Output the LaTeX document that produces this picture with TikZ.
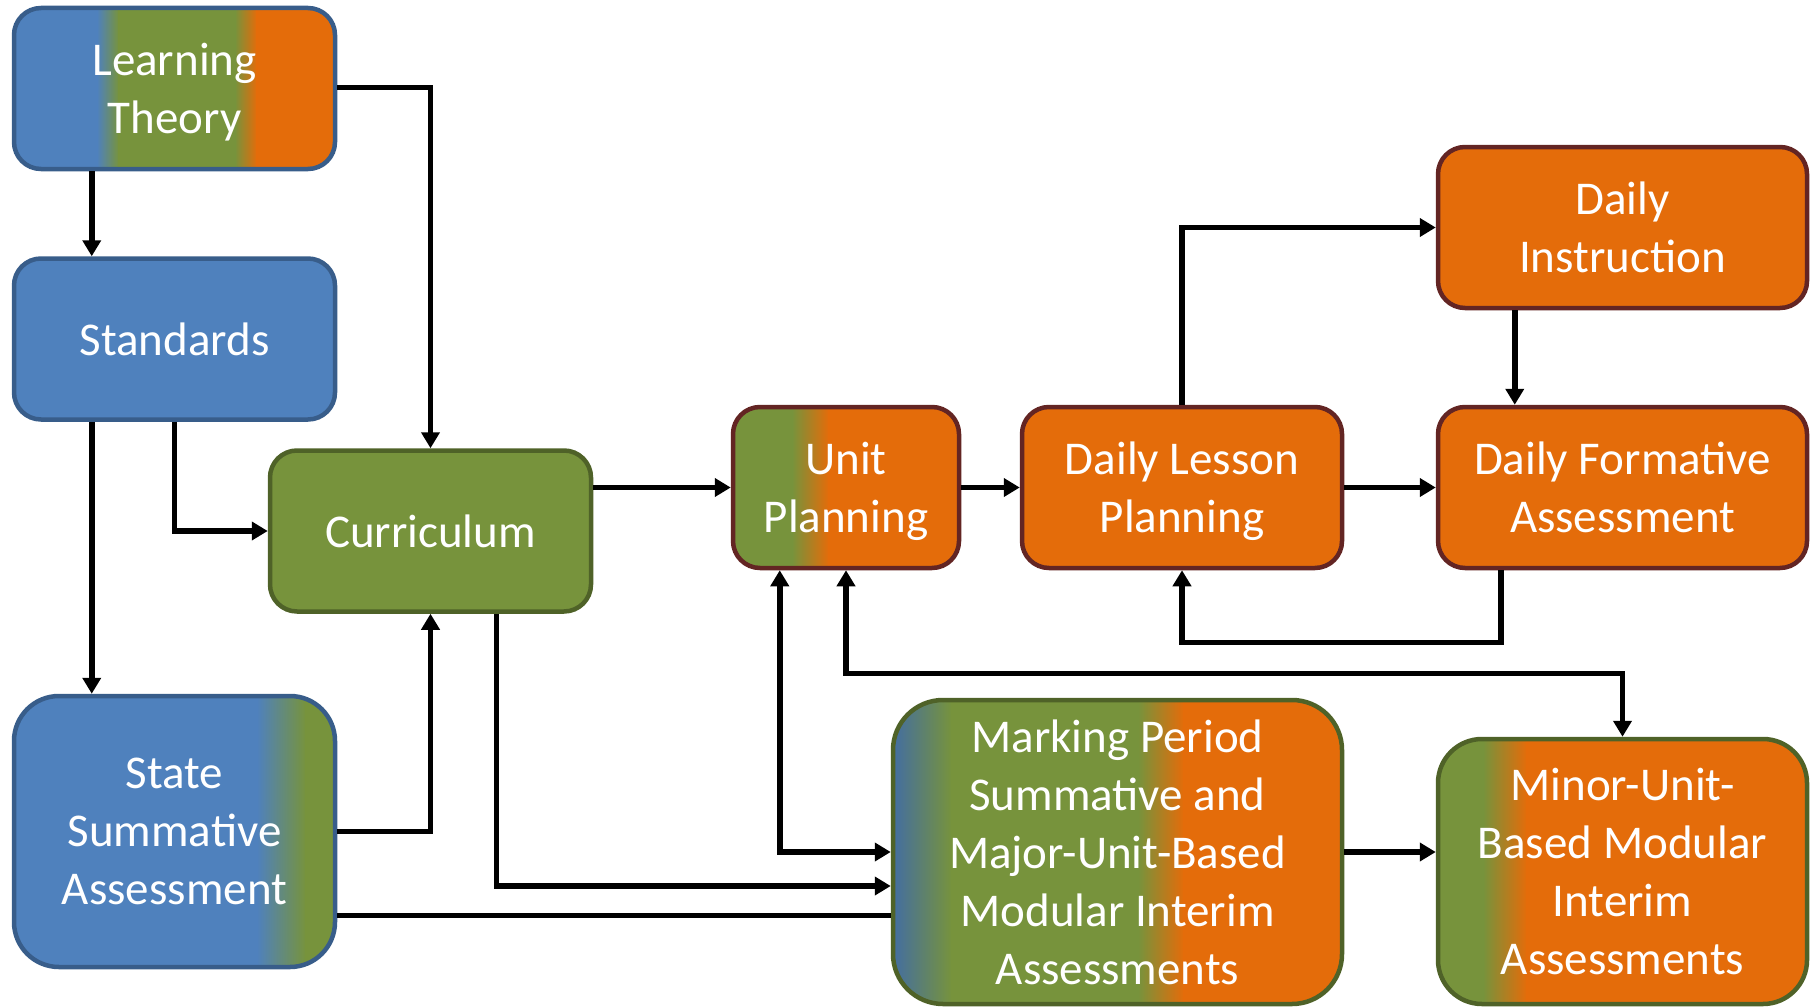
\documentclass[tikz,border=0pt]{standalone}
\usepackage{fontspec}
\setmainfont{Carlito}
\usetikzlibrary{arrows.meta}

\definecolor{cblue}{HTML}{4F81BD}
\definecolor{cgreen}{HTML}{77933C}
\definecolor{corange}{HTML}{E46C0A}
\definecolor{bblue}{HTML}{385D8A}
\definecolor{bgreen}{HTML}{4F6228}
\definecolor{bred}{HTML}{632523}

\begin{document}
\begin{tikzpicture}[x=1pt,y=-1pt,
  box/.style={rectangle, rounded corners=27pt, line width=4.5pt, inner sep=0pt,
    text=white, align=center, text depth=0pt, font=\fontsize{47}{58}\selectfont},
  arr/.style={line width=5.5pt, -{Triangle[length=16pt,width=18pt]}},
  biarr/.style={line width=5.5pt, {Triangle[length=16pt,width=18pt]}-{Triangle[length=16pt,width=18pt]}},
  link/.style={line width=5.5pt}]
\useasboundingbox (0,0) rectangle (1814,1006);

% ---- gradient backgrounds ----
% Learning Theory: blue / green / orange
\begin{scope}
  \clip[rounded corners=27pt] (14,8) rectangle (335,169);
  \fill[cblue] (14,8) rectangle (98,169);
  \shade[left color=cblue,right color=cgreen] (97,8) rectangle (119,169);
  \fill[cgreen] (118,8) rectangle (236,169);
  \shade[left color=cgreen,right color=corange] (235,8) rectangle (257,169);
  \fill[corange] (256,8) rectangle (335,169);
\end{scope}
% State Summative Assessment: blue / green
\begin{scope}
  \clip[rounded corners=45pt] (14,696) rectangle (335,967);
  \fill[cblue] (14,696) rectangle (258,967);
  \shade[left color=cblue,right color=cgreen] (257,696) rectangle (306,967);
  \fill[cgreen] (305,696) rectangle (335,967);
\end{scope}
% Unit Planning: green / orange
\begin{scope}
  \clip[rounded corners=27pt] (733,407) rectangle (959,568);
  \fill[cgreen] (733,407) rectangle (793,568);
  \shade[left color=cgreen,right color=corange] (792,407) rectangle (829,568);
  \fill[corange] (828,407) rectangle (959,568);
\end{scope}
% Marking Period: blue / green / orange
\begin{scope}
  \clip[rounded corners=50pt] (893,700) rectangle (1342,1004);
  \shade[left color=cblue!85!black,right color=cgreen] (893,700) rectangle (952,1004);
  \fill[cgreen] (951,700) rectangle (1139,1004);
  \shade[left color=cgreen,right color=corange] (1138,700) rectangle (1184,1004);
  \fill[corange] (1183,700) rectangle (1342,1004);
\end{scope}
% Minor-Unit: green / orange
\begin{scope}
  \clip[rounded corners=44pt] (1438,739) rectangle (1807,1004);
  \fill[cgreen] (1438,739) rectangle (1484,1004);
  \shade[left color=cgreen,right color=corange] (1483,739) rectangle (1527,1004);
  \fill[corange] (1526,739) rectangle (1807,1004);
\end{scope}

% ---- boxes ----
\node[box, draw=bblue, minimum width=321pt, minimum height=161pt] (lt) at (174.5,88.5) {Learning\\Theory};
\node[box, draw=bblue, fill=cblue, minimum width=321pt, minimum height=161pt] (std) at (174.5,339) {Standards};
\node[box, draw=bgreen, fill=cgreen, minimum width=321pt, minimum height=161pt] (cur) at (430.5,531) {Curriculum};
\node[box, draw=bblue, rounded corners=45pt, minimum width=321pt, minimum height=271pt] (ssa) at (174.5,831.5) {State\\Summative\\Assessment};
\node[box, draw=bred, minimum width=226pt, minimum height=161pt] (up) at (846,487.5) {Unit\\Planning};
\node[box, draw=bred, fill=corange, minimum width=320pt, minimum height=161pt] (dl) at (1182,487.5) {Daily Lesson\\Planning};
\node[box, draw=bred, fill=corange, minimum width=369pt, minimum height=161pt] (di) at (1622.5,227.5) {Daily\\Instruction};
\node[box, draw=bred, fill=corange, minimum width=369pt, minimum height=161pt] (df) at (1622.5,487.5) {Daily Formative\\Assessment};
\node[box, draw=bgreen, rounded corners=50pt, minimum width=449pt, minimum height=304pt] (mp) at (1117.5,852) {Marking Period\\Summative and\\Major-Unit-Based\\Modular Interim\\Assessments};
\node[box, draw=bgreen, rounded corners=44pt, minimum width=369pt, minimum height=265pt] (mu) at (1622.5,871.5) {Minor-Unit-\\Based Modular\\Interim\\Assessments};

% ---- connectors ----
\draw[arr] ([xshift=80pt]lt.south west) -- ([xshift=80pt]std.north west);
\draw[arr] ([yshift=1pt]lt.east) -| (cur.north);
\draw[arr] ([xshift=80pt]std.south west) -- ([xshift=80pt]ssa.north west);
\draw[arr] (std.south) |- (cur.west);
\draw[arr] (up.west -| cur.east) -- (up.west);
\draw[arr] (up.east) -- (dl.west);
\draw[arr] (dl.east) -- (df.west);
\draw[arr] (dl.north) |- (di.west);
\draw[arr] ([xshift=79pt]di.south west) -- ([xshift=79pt]df.north west);
\draw[arr] ([xshift=65pt]df.south west) -- ++(0,72) -| (dl.south);
\draw[arr] (ssa.east) -| (cur.south);
\draw[arr] ([xshift=66pt]cur.south) |- ([yshift=-34pt]mp.west);
\draw[link] ([yshift=-84pt]ssa.east) -- ([yshift=-84pt]ssa.east -| mp.west);
\draw[biarr] ([xshift=49pt]up.south west) |- (mp.west);
\draw[biarr] (up.south) -- ++(0,103) -| (mu.north);
\draw[arr] (mp.east) -- (mp.east -| mu.west);
\end{tikzpicture}
\end{document}
